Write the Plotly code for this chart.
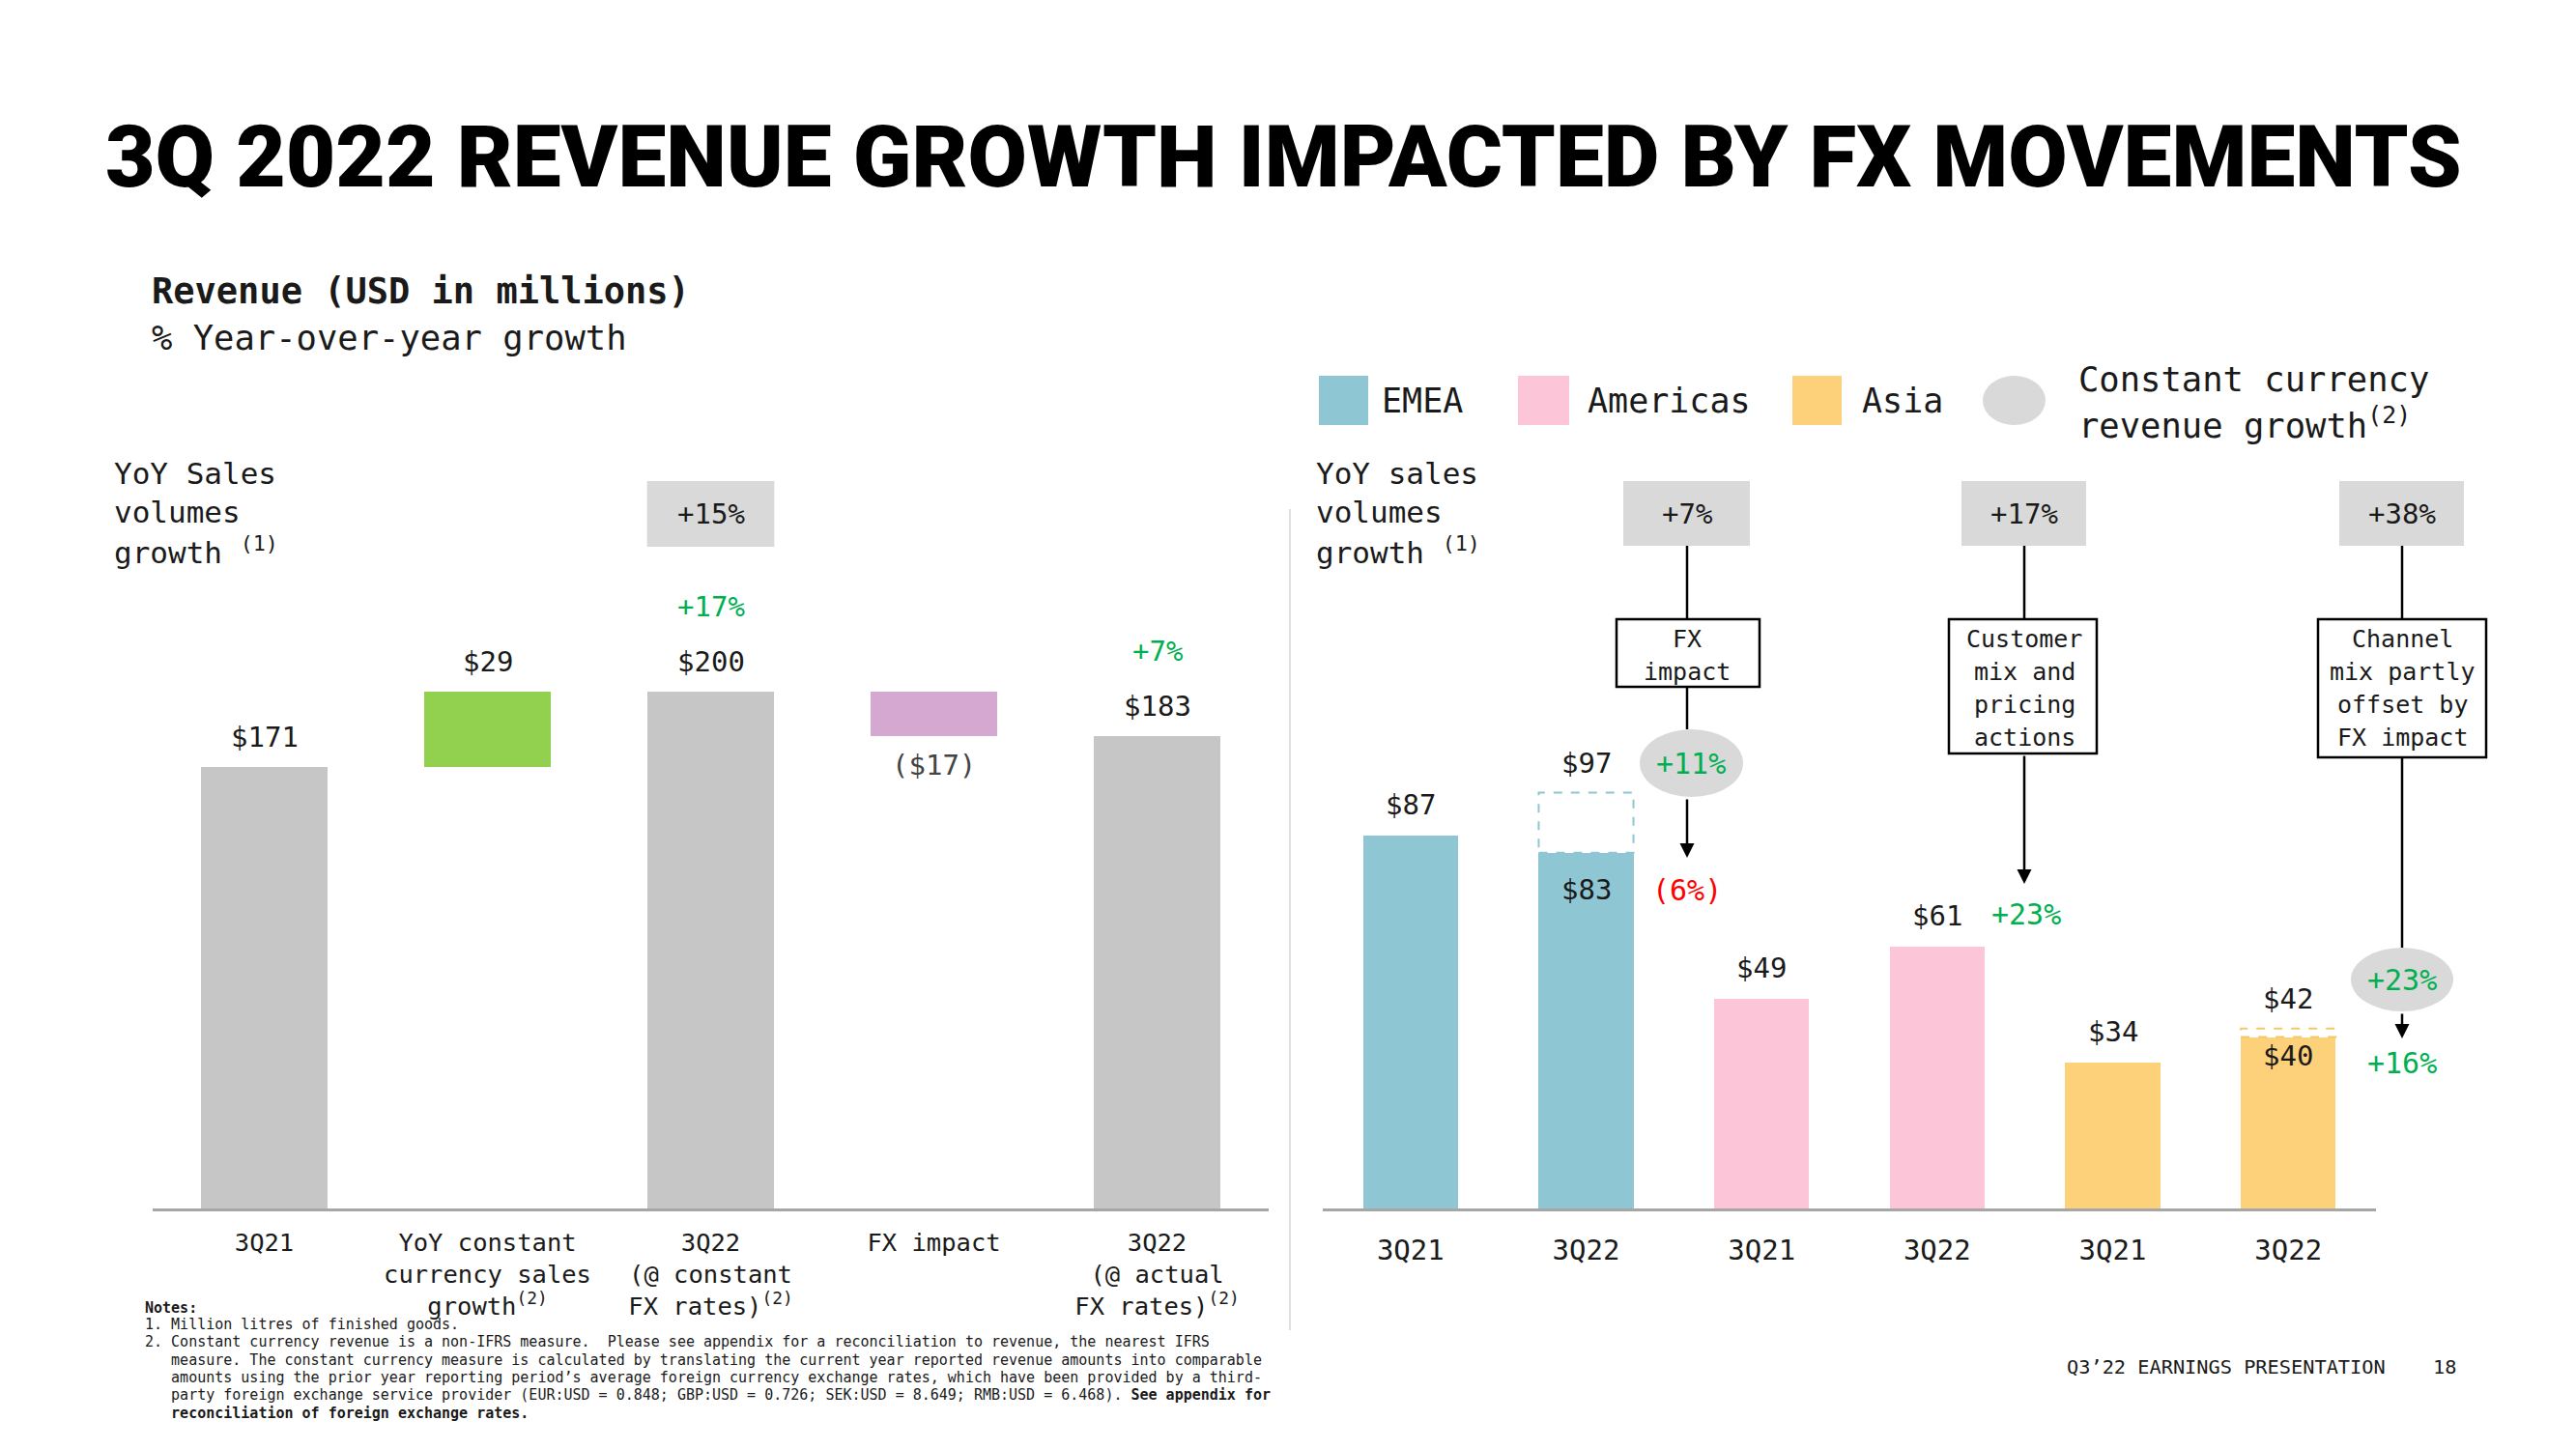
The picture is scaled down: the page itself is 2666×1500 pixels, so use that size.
import plotly.graph_objects as go

W, H = 2666, 1500
OFF = 8  # page body margin compensation
MONO = "DejaVu Sans Mono"
TITLE_FONT = "Roboto, sans-serif"

# ---------------- Left chart data (USD millions) ----------------
left_categories = ["3Q21",
                   "YoY constant<br>currency sales<br>growth<sup>(2)</sup>",
                   "3Q22<br>(@ constant<br>FX rates)<sup>(2)</sup>",
                   "FX impact",
                   "3Q22<br>(@ actual<br>FX rates)<sup>(2)</sup>"]
left_values = [171, 29, 200, -17, 183]
left_kinds = ["total", "delta", "total", "delta", "total"]
left_value_labels = ["$171", "$29", "$200", "($17)", "$183"]
left_growth_labels = ["", "", "+17%", "", "+7%"]
left_colors = ["#c6c6c6", "#92d050", "#c6c6c6", "#d5a8d1", "#c6c6c6"]
left_volume_growth = ["", "", "+15%", "", ""]

# ---------------- Right chart data (USD millions) ----------------
right_periods = ["3Q21", "3Q22", "3Q21", "3Q22", "3Q21", "3Q22"]
right_regions = ["EMEA", "EMEA", "Americas", "Americas", "Asia", "Asia"]
right_values = [87, 83, 49, 61, 34, 40]            # actual FX rates
right_cc_values = [None, 97, None, None, None, 42]  # constant currency (where different)
right_value_labels = ["$87", "$83", "$49", "$61", "$34", "$40"]
right_cc_labels = ["", "$97", "", "", "", "$42"]
region_names = ["EMEA", "Americas", "Asia"]
region_colors = ["#8ec6d4", "#fcc5d8", "#fdd07a"]
region_volume_growth = ["+7%", "+17%", "+38%"]
region_cc_growth = ["+11%", "", "+23%"]
region_actual_growth = ["(6%)", "+23%", "+16%"]
region_actual_growth_colors = ["#ff0000", "#00b050", "#00b050"]
region_drivers = ["FX<br>impact", "Customer<br>mix and<br>pricing<br>actions",
                  "Channel<br>mix partly<br>offset by<br>FX impact"]

notes_lines = [
    "1. Million litres of finished goods.",
    "2. Constant currency revenue is a non-IFRS measure.  Please see appendix for a reconciliation to revenue, the nearest IFRS",
    "   measure. The constant currency measure is calculated by translating the current year reported revenue amounts into comparable",
    "   amounts using the prior year reporting period\u2019s average foreign currency exchange rates, which have been provided by a third-",
    "   party foreign exchange service provider (EUR:USD = 0.848; GBP:USD = 0.726; SEK:USD = 8.649; RMB:USD = 6.468). <b>See appendix for</b>",
    "   <b>reconciliation of foreign exchange rates.</b>",
]


def px(x):
    return (x - OFF) / W


def py(y):
    return 1 - (y - OFF) / H


annotations = []
shapes = []


def text(t, x, y, size, color="#1a1a1a", xanchor="center", yanchor="middle",
         xref="paper", yref="paper", family=MONO, yshift=0, weight=None, **kw):
    f = dict(family=family, size=size, color=color)
    if weight is not None:
        f["weight"] = weight
    annotations.append(dict(text=t, x=x, y=y, xref=xref, yref=yref, showarrow=False,
                            xanchor=xanchor, yanchor=yanchor, yshift=yshift, font=f, **kw))


def arrow(x, y_tip, y_tail):
    annotations.append(dict(x=px(x), y=py(y_tip), xref="paper", yref="paper", ax=0,
                            ay=-(y_tip - y_tail), text=" ", showarrow=True, arrowhead=2,
                            arrowsize=1.2, arrowwidth=2.5, arrowcolor="black", standoff=0,
                            font=dict(family=MONO, size=2)))


fig = go.Figure()

# ---------------- Left waterfall ----------------
bases, heights = [], []
running = 0
for v, k in zip(left_values, left_kinds):
    if k == "total":
        bases.append(0)
        heights.append(v)
        running = v
    else:
        if v >= 0:
            bases.append(running)
            heights.append(v)
        else:
            bases.append(running + v)
            heights.append(-v)
        running += v

fig.add_trace(go.Bar(x=left_categories, y=heights, base=bases, marker_color=left_colors,
                     marker_line_width=0, width=0.57, xaxis="x", yaxis="y",
                     hoverinfo="skip", showlegend=False))

for i, cat in enumerate(left_categories):
    top = bases[i] + heights[i]
    if left_values[i] < 0:
        text(left_value_labels[i], cat, bases[i], 29, color="#444", xref="x", yref="y", yshift=-30)
    else:
        text(left_value_labels[i], cat, top, 29, xref="x", yref="y", yshift=31)
    if left_growth_labels[i]:
        text(left_growth_labels[i], cat, top, 29, color="#00b050", xref="x", yref="y", yshift=88)
    if left_volume_growth[i]:
        shapes.append(dict(type="rect", xref="x", yref="paper", x0=i - 0.285, x1=i + 0.285,
                           y0=py(566), y1=py(498), fillcolor="#d9d9d9", line_width=0))
        text(left_volume_growth[i], cat, py(532), 29, xref="x")

# ---------------- Right regional bars ----------------
for r, name in enumerate(region_names):
    idx = [i for i, reg in enumerate(right_regions) if reg == name]
    fig.add_trace(go.Bar(x=idx, y=[right_values[i] for i in idx], marker_color=region_colors[r],
                         marker_line_width=0, width=0.54, xaxis="x2", yaxis="y2",
                         hoverinfo="skip", showlegend=False, name=name))

for i in range(len(right_values)):
    cc = right_cc_values[i]
    if cc is not None:
        reg = region_names.index(right_regions[i])
        dash_col = "#8ec6d4" if reg == 0 else "#f2c86a"
        shapes.append(dict(type="rect", xref="x2", yref="y2", x0=i - 0.27, x1=i + 0.27,
                           y0=right_values[i], y1=cc, fillcolor="white",
                           line=dict(color=dash_col, width=2, dash="dash"), layer="above"))
        text(right_cc_labels[i], i, cc, 29, xref="x2", yref="y2", yshift=31)
        text(right_value_labels[i], i, right_values[i], 29, xref="x2", yref="y2",
             yshift=-38 if reg == 0 else -19)
    else:
        text(right_value_labels[i], i, right_values[i], 29, xref="x2", yref="y2", yshift=32)

# annotation flow for each region (pixel layout)
flow_x = [1746, 2095, 2486]
box_x = [(1680, 1811), (2030, 2159), (2421, 2550)]
drv_box = [(1673, 1821, 641, 711), (2017, 2170, 641, 780), (2399, 2573, 641, 784)]
for r in range(3):
    xc = flow_x[r]
    shapes.append(dict(type="rect", xref="paper", yref="paper", x0=px(box_x[r][0]), x1=px(box_x[r][1]),
                       y0=py(565), y1=py(498), fillcolor="#d9d9d9", line_width=0))
    text(region_volume_growth[r], px(xc), py(532), 29)
    shapes.append(dict(type="line", xref="paper", yref="paper", x0=px(xc), x1=px(xc),
                       y0=py(565), y1=py(641), line=dict(color="black", width=2.5)))
    bx0, bx1, by0, by1 = drv_box[r]
    shapes.append(dict(type="rect", xref="paper", yref="paper", x0=px(bx0), x1=px(bx1),
                       y0=py(by1), y1=py(by0), fillcolor="white", line=dict(color="black", width=2.5)))
    for j, line in enumerate(region_drivers[r].split("<br>")):
        text(line, px(xc), py(by0 + 20 + j * 34), 25)

# region 0: ellipse + arrow
shapes.append(dict(type="line", xref="paper", yref="paper", x0=px(1746), x1=px(1746),
                   y0=py(711), y1=py(755), line=dict(color="black", width=2.5)))
shapes.append(dict(type="circle", xref="paper", yref="paper", x0=px(1697), x1=px(1804),
                   y0=py(825), y1=py(755), fillcolor="#d9d9d9", line_width=0))
text(region_cc_growth[0], px(1750), py(790), 30, color="#00b050")
arrow(1746, 888, 825)
text(region_actual_growth[0], px(1746), py(922), 30, color=region_actual_growth_colors[0])

# region 1: long arrow
arrow(2095, 915, 780)
text(region_actual_growth[1], px(2097), py(946), 30, color=region_actual_growth_colors[1])

# region 2: line, ellipse, arrow
shapes.append(dict(type="line", xref="paper", yref="paper", x0=px(2486), x1=px(2486),
                   y0=py(784), y1=py(981), line=dict(color="black", width=2.5)))
shapes.append(dict(type="circle", xref="paper", yref="paper", x0=px(2433), x1=px(2539),
                   y0=py(1047), y1=py(981), fillcolor="#d9d9d9", line_width=0))
text(region_cc_growth[2], px(2486), py(1014), 30, color="#00b050")
arrow(2486, 1075, 1047)
text(region_actual_growth[2], px(2486), py(1100), 30, color=region_actual_growth_colors[2])

# ---------------- Legend (custom) ----------------
leg_sq = [(1365, 1416), (1571, 1624), (1855, 1906)]
leg_tx = [1428, 1641, 1925]
for r in range(3):
    shapes.append(dict(type="rect", xref="paper", yref="paper", x0=px(leg_sq[r][0]), x1=px(leg_sq[r][1]),
                       y0=py(440), y1=py(389), fillcolor=region_colors[r], line_width=0))
    text(region_names[r], px(leg_tx[r]), py(415), 35, xanchor="left")
shapes.append(dict(type="circle", xref="paper", yref="paper", x0=px(2052), x1=px(2117),
                   y0=py(440), y1=py(389), fillcolor="#d9d9d9", line_width=0))
text("Constant currency", px(2149), py(393), 35.5, xanchor="left")
text("revenue growth<sup>(2)</sup>", px(2149), py(438), 35.5, xanchor="left")

# ---------------- Titles & side texts ----------------
text("3Q 2022 REVENUE GROWTH IMPACTED BY FX MOVEMENTS", px(1328), py(162), 89,
     color="black", family=TITLE_FONT, weight=900)
text("<b>Revenue (USD in millions)</b>", px(155), py(301), 37, xanchor="left")
text("% Year-over-year growth", px(155), py(349), 35.5, xanchor="left")

for xl, lines in [(116, ["YoY Sales", "volumes", "growth <sup>(1)</sup>"]),
                  (1360, ["YoY sales", "volumes", "growth <sup>(1)</sup>"])]:
    for j, line in enumerate(lines):
        text(line, px(xl), py(490 + 40 * j), 31, xanchor="left")

# separator
shapes.append(dict(type="line", xref="paper", yref="paper", x0=px(1335), x1=px(1335),
                   y0=py(527), y1=py(1377), line=dict(color="#e0e0e0", width=2)))

# notes
text("<b>Notes:</b>", px(148), py(1354), 15, xanchor="left")
for j, line in enumerate(notes_lines):
    text(line.replace(" ", "\u00a0"), px(148), py(1371 + 18.3 * j), 15, xanchor="left")

# footer
text("Q3\u201922 EARNINGS PRESENTATION", px(2137), py(1415), 20.3, xanchor="left")
text("18", px(2516), py(1415), 20.3, xanchor="left")

base_px, top_px = 1251, 451
fig.update_layout(
    width=W, height=H, margin=dict(l=0, r=0, t=0, b=0),
    paper_bgcolor="white", plot_bgcolor="white", bargap=0,
    xaxis=dict(domain=[px(158), px(1313)], type="category", range=[-0.5, 4.5],
               showline=True, linecolor="#a6a6a6", linewidth=3, showgrid=False, zeroline=False,
               ticks="", ticklabelstandoff=10,
               tickfont=dict(family=MONO, size=25.5, color="#1a1a1a"), anchor="y"),
    yaxis=dict(domain=[py(base_px), py(top_px)], range=[0, (base_px - top_px) / 2.674],
               visible=False, anchor="x"),
    xaxis2=dict(domain=[px(1369), px(2459)], range=[-0.5, 5.5], tickvals=list(range(6)),
                ticktext=right_periods, showline=True, linecolor="#a6a6a6", linewidth=3,
                showgrid=False, zeroline=False, ticks="", ticklabelstandoff=15,
                tickfont=dict(family=MONO, size=29, color="#1a1a1a"), anchor="y2"),
    yaxis2=dict(domain=[py(base_px), py(top_px)], range=[0, (base_px - top_px) / 4.437],
                visible=False, anchor="x2"),
    annotations=annotations, shapes=shapes, showlegend=False,
)

fig.write_html("out.html")
